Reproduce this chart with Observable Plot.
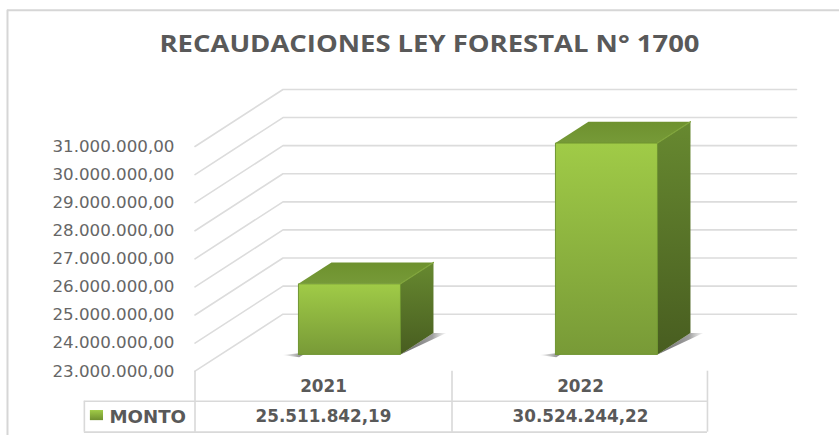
<!DOCTYPE html>
<html><head><meta charset="utf-8">
<script src="https://cdn.jsdelivr.net/npm/d3@7"></script>
<script src="https://cdn.jsdelivr.net/npm/@observablehq/plot@0.6"></script>
<style>html,body{margin:0;padding:0;background:#fff}svg{display:block}</style>
</head><body><div id="chart"></div>
<script>
const chartTitle = "RECAUDACIONES LEY FORESTAL N° 1700";
const years = ["2021", "2022"];
const montos = [25511842.19, 30524244.22];
const yTicks = [23e6, 24e6, 25e6, 26e6, 27e6, 28e6, 29e6, 30e6, 31e6];
const seriesName = "MONTO";

const fmt = d3.formatLocale({decimal: ",", thousands: ".", grouping: [3], currency: ["", ""]}).format(",.2f");

// oblique projection: depth z (0 front of floor, 1 back wall) shifts a point right and up in data units
const depthX = 0.3424, depthY = 2.03e6;
const P = (x, v, z) => ({x: x + z * depthX, y: v + z * depthY});
const base = yTicks[0], top_ = yTicks[yTicks.length - 1];
const zFront = 0.295, zBack = 0.67, halfW = 0.1985, wallEnd = 2.3405 - depthX;

const wall = yTicks.flatMap(v => [P(0, v, 0), P(0, v, 1), P(wallEnd, v, 1)].map(p => ({...p, v})));

const poly = (pts, fill) => Plot.line(pts, {x: "x", y: "y", fill, stroke: "none", curve: "linear"});

const barMarks = montos.flatMap((v, i) => {
  const l = i + 0.5 - halfW, r = i + 0.5 + halfW;
  return [
    poly([P(l - 0.06, base, zFront - 0.01), P(l + 0.02, base, zFront + 0.035), P(l + 0.02, base, zFront - 0.05)], "url(#shL)"),
    poly([P(r, base, zFront - 0.01), P(r, base, zBack), P(r + 0.05, base, zBack)], "url(#shR)"),
    poly([P(l, v, zFront), P(l, v, zBack), P(r, v, zBack), P(r, v, zFront)], "url(#topF)"),
    poly([P(r, v, zFront), P(r, v, zBack), P(r, base, zBack), P(r, base, zFront)], "url(#sideF)"),
    poly([P(l, base, zFront), P(l, v, zFront), P(r, v, zFront), P(r, base, zFront)], "url(#frontF)"),
    Plot.line([P(l, base, zFront), P(l, v, zFront), P(r, v, zFront), P(r, base, zFront), P(l, base, zFront)], {x: "x", y: "y", stroke: "#6f9530", strokeWidth: 1}),
    Plot.line([P(r, v, zFront), P(r, v, zBack)], {x: "x", y: "y", stroke: "#80a53b", strokeWidth: 1.2})
  ];
});

const row1 = base - 1.07e6, row2 = base - 2.17e6;
const colLeft = -0.4305, cols = [0, 1, 1.994];
const gray = "#d9d9d9";

const defs = () => {
  const d = d3.create("svg:defs");
  const grad = (id, stops, horizontal) => {
    const g = d.append("linearGradient").attr("id", id).attr("x1", 0).attr("y1", 0)
      .attr("x2", horizontal ? 1 : 0).attr("y2", horizontal ? 0 : 1);
    stops.forEach(([o, c, a]) => g.append("stop").attr("offset", o).attr("stop-color", c).attr("stop-opacity", a ?? 1));
  };
  grad("frontF", [[0, "#a0cb47"], [1, "#789a37"]]);
  grad("sideF", [[0, "#678930"], [1, "#485d20"]]);
  grad("topF", [[0, "#6e912e"], [1, "#769a38"]]);
  grad("shL", [[0, "#888", 0], [1, "#666", 1]], true);
  grad("shR", [[0, "#666", 1], [0.7, "#888", 0.8], [1, "#aaa", 0.1]], true);
  grad("swatch", [[0, "#a0cb47"], [1, "#6f9030"]]);
  return d.node();
};

const textOpts = {fill: "#595959", fontFamily: "DejaVu Sans", fontWeight: 700, fontSize: 16.8};

const chart = Plot.plot({
  width: 839, height: 435,
  marginLeft: 176, marginRight: 0, marginTop: 0, marginBottom: 0,
  style: {background: "#fff", fontFamily: "DejaVu Sans"},
  x: {type: "linear", domain: [0, 2], range: [194.5, 708.5], axis: null},
  y: {type: "linear", domain: [base, top_], range: [370.7, 146]},
  marks: [
    defs,
    // outer chart border
    Plot.ruleY([35.85e6], {x1: -0.7296, x2: 2.51, stroke: "#d6d6d6", strokeWidth: 2}),
    Plot.ruleX([-0.7296], {y1: -2.3e6 + base, y2: 35.85e6, stroke: "#d6d6d6", strokeWidth: 2}),
    // back wall and side wall gridlines
    Plot.line(wall, {x: "x", y: "y", z: "v", stroke: "#dcdcdc", strokeWidth: 1.6, curve: "linear"}),
    ...barMarks,
    // data table
    Plot.ruleX(cols, {y1: row2, y2: base, stroke: gray, strokeWidth: 1.6}),
    Plot.ruleX([colLeft], {y1: row2, y2: row1, stroke: gray, strokeWidth: 1.6}),
    Plot.ruleY([row1, row2], {x1: colLeft, x2: cols[2], stroke: gray, strokeWidth: 1.6}),
    Plot.text(years, {x: (d, i) => i + 0.5, y: base - 0.55e6, text: d => d, ...textOpts}),
    Plot.text(montos, {x: (d, i) => i + 0.5, y: base - 1.63e6, text: d => fmt(d), ...textOpts}),
    Plot.rect([seriesName], {x1: -0.407, x2: -0.356, y1: base - 1.4e6, y2: base - 1.76e6, fill: "url(#swatch)"}),
    Plot.text([seriesName], {x: -0.333, y: base - 1.62e6, text: d => d, textAnchor: "start", ...textOpts, fontSize: 18.2}),
    // title
    Plot.text([chartTitle], {x: 0.9125, y: 34.65e6, text: d => d, fill: "#595959", fontFamily: "Open Sans", fontWeight: 700, fontSize: 24, className: "chart-title"}),
    // value axis
    Plot.axisY(yTicks, {anchor: "left", tickSize: 0, tickPadding: 2, tickFormat: fmt, label: null, fontSize: 16.7, fill: "#666"})
  ]
});
// the reference title is horizontally stretched; widen the real text to its measured run
chart.querySelectorAll(".chart-title text").forEach(t => {
  t.setAttribute("textLength", 540);
  t.setAttribute("lengthAdjust", "spacingAndGlyphs");
});
document.getElementById("chart").append(chart);
</script></body></html>
